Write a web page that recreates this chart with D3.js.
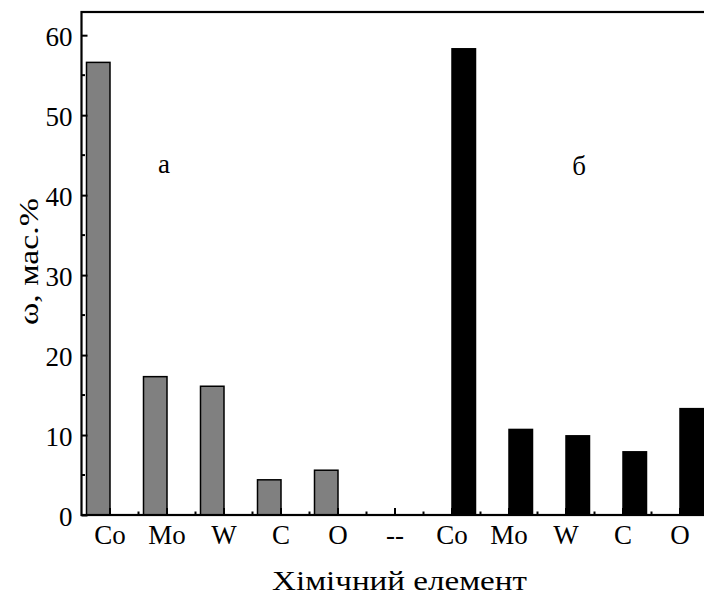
<!DOCTYPE html>
<html>
<head>
<meta charset="utf-8">
<script src="https://cdn.jsdelivr.net/npm/d3@7"></script>
<style>
  body { margin: 0; background: #fff; }
  svg { display: block; }
</style>
</head>
<body>
<div id="svg-holder"></div>
<script>
// categories along x (the two samples share one axis, "--" is a gap)
let categories = ["Co", "Mo", "W", "C", "O", "--", "Co", "Mo", "W", "C", "O"];
// sample а (grey) and sample б (black), mass %
let seriesA = [56.6, 17.3, 16.1, 4.4, 5.6, null, null, null, null, null, null];
let seriesB = [null, null, null, null, null, null, 58.3, 10.7, 9.9, 7.9, 13.3];
let yTicks = [0, 10, 20, 30, 40, 50, 60];

let serif = "'Liberation Serif', 'Times New Roman', 'DejaVu Serif', serif";

let margin = {top: 12, right: -4.5, bottom: 81, left: 81.5};
let W = 704, H = 596;
let width = W - margin.left - margin.right,
    height = H - margin.top - margin.bottom;

let root = d3.select("#svg-holder")
    .append("svg")
    .attr("width", W)
    .attr("height", H)
    .attr("font-family", serif);

let svg = root.append("g")
    .attr("transform", "translate(" + margin.left + "," + margin.top + ")");

let x = d3.scaleBand()
    .domain(d3.range(categories.length))
    .range([0, width]);

let bw = x.bandwidth();
let sub = d3.scaleBand()
    .domain(["a", "b"])
    .range([bw / 2 - 23.5, bw / 2 + 23.5]);

let y = d3.scaleLinear()
    .domain([0, 62.9])
    .range([height, 0]);

// bars
let bars = [];
seriesA.forEach((v, i) => { if (v != null) bars.push({i: i, v: v, s: "a"}); });
seriesB.forEach((v, i) => { if (v != null) bars.push({i: i, v: v, s: "b"}); });

svg.append("g")
  .selectAll("rect")
  .data(bars)
  .join("rect")
    .attr("x", d => x(d.i) + sub(d.s))
    .attr("y", d => y(d.v))
    .attr("width", sub.bandwidth())
    .attr("height", d => y(0) - y(d.v))
    .attr("fill", d => d.s == "a" ? "#808080" : "#000")
    .attr("stroke", "#000")
    .attr("stroke-width", 1.5);

// y axis: major ticks inward, minor at halves
let yAxis = svg.append("g")
    .call(d3.axisLeft(y).tickValues(yTicks).tickSize(-6).tickPadding(9).tickFormat(d3.format("d")))
    .attr("font-family", serif)
    .attr("font-size", 27);
yAxis.select(".domain").remove();
yAxis.selectAll("line").attr("stroke-width", 2);
yAxis.selectAll("text").attr("dy", "0.38em");

svg.append("g")
  .selectAll("line")
  .data(yTicks.map(t => t + 5))
  .join("line")
    .attr("x1", 0).attr("x2", 3.5)
    .attr("y1", d => y(d)).attr("y2", d => y(d))
    .attr("stroke", "#000").attr("stroke-width", 2);

// x axis
let xAxis = svg.append("g")
    .attr("transform", "translate(0," + height + ")")
    .call(d3.axisBottom(x).tickSize(-7).tickPadding(10).tickFormat(i => categories[i]))
    .attr("font-family", serif)
    .attr("font-size", 27);
xAxis.select(".domain").remove();
xAxis.selectAll("line").attr("stroke-width", 2);

svg.append("g")
  .selectAll("line")
  .data(d3.range(1, categories.length))
  .join("line")
    .attr("x1", d => x(d)).attr("x2", d => x(d))
    .attr("y1", height).attr("y2", height - 3.5)
    .attr("stroke", "#000").attr("stroke-width", 2);

// frame
svg.append("rect")
    .attr("x", 0).attr("y", 0)
    .attr("width", width).attr("height", height)
    .attr("fill", "none")
    .attr("stroke", "#000")
    .attr("stroke-width", 2.2);

// panel letters
svg.append("text")
    .attr("x", x(1) + bw / 2 - 3).attr("y", 161)
    .attr("text-anchor", "middle")
    .attr("font-size", 27)
    .text("а");
svg.append("text")
    .attr("x", x(8) + bw / 2 + 13).attr("y", 163)
    .attr("text-anchor", "middle")
    .attr("font-size", 27)
    .text("б");

// axis titles, stretched horizontally to the width seen in the original
function stretched(g, str, len) {
    let t = g.append("text")
        .attr("text-anchor", "middle")
        .attr("font-size", 28)
        .text(str);
    let w = t.node().getComputedTextLength();
    t.attr("transform", "scale(" + (len / w) + ",1)");
    return t;
}

stretched(root.append("g").attr("transform", "translate(38,261.5) rotate(-90)"), "ω, мас.%", 127);
stretched(root.append("g").attr("transform", "translate(399.5,590)"), "Хімічний елемент", 255);
</script>
</body>
</html>
